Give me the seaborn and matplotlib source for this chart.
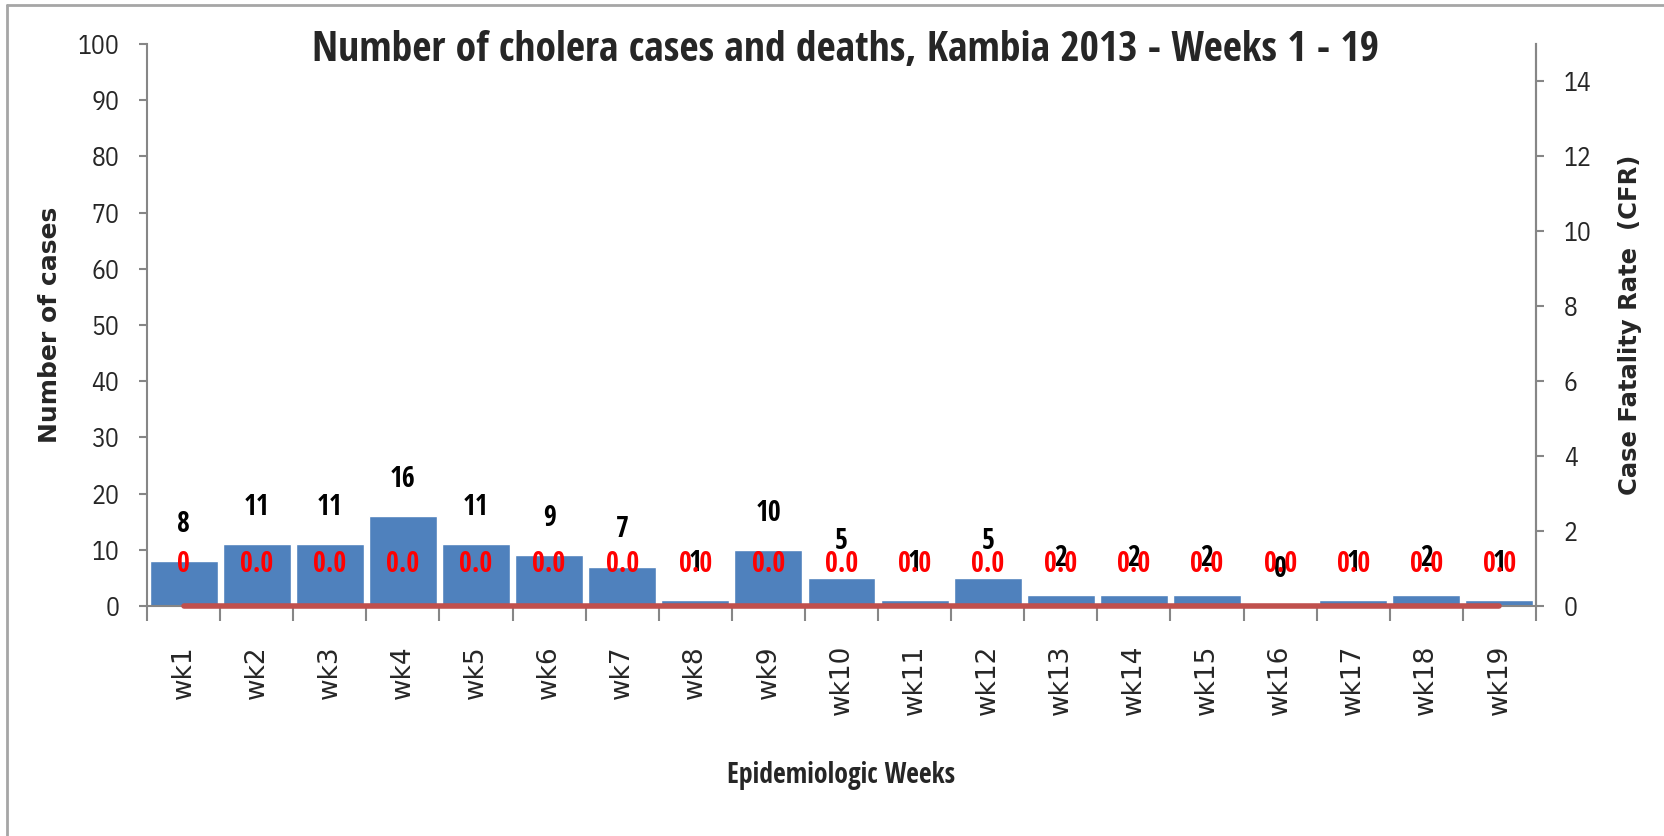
import numpy as np
import pandas as pd
import matplotlib
matplotlib.use("Agg")
import matplotlib.pyplot as plt
from matplotlib.lines import Line2D
import seaborn as sns

# data
weeks = ["wk1", "wk2", "wk3", "wk4", "wk5", "wk6", "wk7", "wk8", "wk9", "wk10",
         "wk11", "wk12", "wk13", "wk14", "wk15", "wk16", "wk17", "wk18", "wk19"]
cases = [8, 11, 11, 16, 11, 9, 7, 1, 10, 5, 1, 5, 2, 2, 2, 0, 1, 2, 1]
cfr = [0.0] * 19
cfr_labels = ["0", "0.0", "0.0", "0.0", "0.0", "0.0", "0.0", "0.0", "0.0", "0.0",
              "0.0", "0.0", "0.0", "0.0", "0.0", "0.0", "0.0", "0.0", "0.0"]

df = pd.DataFrame({"week": weeks, "cases": cases, "cfr": cfr})

sns.set_style("white")
plt.rcParams['font.family'] = ['Open Sans Condensed', 'DejaVu Sans']
BOLD = ['Open Sans Condensed', 'DejaVu Sans']
REG = ['IBM Plex Sans Condensed', 'DejaVu Sans']

BLUE = "#4F81BD"
RED_LINE = "#C0504D"
GRID = "#868686"

W, H = 1665, 836
fig = plt.figure(figsize=(W / 100, H / 100), dpi=100)
ax = fig.add_axes([147 / W, 1 - 606 / H, (1536 - 147) / W, (606 - 44) / H])

sns.barplot(data=df, x="week", y="cases", color=BLUE, saturation=1, width=0.93,
            ax=ax, zorder=2)
ax.bar_label(ax.containers[0], padding=16, fontsize=20, fontweight="bold",
             color="black", family=BOLD)

ax.set_xlim(-0.5, len(weeks) - 0.5)
ax.set_ylim(0, 100)
ax.set_yticks(range(0, 101, 10))
ax.tick_params(axis="y", labelsize=18.5, length=6, width=1.5, color=GRID,
               direction="out", left=True, pad=14)
for t in ax.get_yticklabels():
    t.set_family(REG)
ax.tick_params(axis="x", labelsize=19, length=0, pad=28)
ax.set_xticks(range(len(weeks)))
ax.set_xticklabels(weeks, rotation=90, family="DejaVu Sans")
ax.set_xticks(np.arange(-0.5, len(weeks), 1), minor=True)
ax.tick_params(axis="x", which="minor", length=11, width=1.5, color=GRID,
               direction="out", bottom=True)

ax.set_xlabel("Epidemiologic Weeks", fontsize=20, fontweight="bold", family=BOLD)
ax.xaxis.set_label_coords(0.5, (606 - 775) / 562)
ax.xaxis.label.set_va("center")
ax.set_ylabel("Number of cases", fontsize=18, fontweight="bold", family="DejaVu Sans")
ax.yaxis.label.set_va("center")
ax.yaxis.set_label_coords((50 - 147) / 1389, 0.5)

for s in ["left", "bottom", "right"]:
    ax.spines[s].set_color(GRID)
    ax.spines[s].set_linewidth(1.5)
ax.spines["top"].set_visible(False)

# secondary axis for case fatality rate
ax2 = ax.twinx()
sns.lineplot(x=np.arange(len(weeks)), y=cfr, ax=ax2, color=RED_LINE)
cfr_line = ax2.lines[0]
cfr_line.set_linewidth(4)
cfr_line.set_solid_capstyle("round")
cfr_line.set_clip_on(False)
cfr_line.set_zorder(3)
for i, (v, lab) in enumerate(zip(cfr, cfr_labels)):
    ax2.annotate(lab, (i, v), xytext=(0, 30), textcoords="offset points",
                 ha="center", va="center", fontsize=20, fontweight="bold",
                 color="#FF0000", family=BOLD)
ax2.set_ylim(0, 15)
ax2.set_yticks(range(0, 15, 2))
ax2.tick_params(axis="y", labelsize=18.5, length=6, width=1.5, color=GRID,
                direction="out", right=True, pad=14)
for t in ax2.get_yticklabels():
    t.set_family(REG)
ax2.set_ylabel("Case Fatality Rate  (CFR)", fontsize=17.5, fontweight="bold",
               family="DejaVu Sans", rotation=90)
ax2.yaxis.label.set_va("center")
ax2.yaxis.set_label_coords((1630 - 147) / 1389, 0.5)
for s in ["left", "bottom", "top"]:
    ax2.spines[s].set_visible(False)
ax2.spines["right"].set_color(GRID)
ax2.spines["right"].set_linewidth(1.5)

fig.text(846 / W, 1 - 51 / H, "Number of cholera cases and deaths, Kambia 2013 - Weeks 1 - 19",
         ha="center", va="center", fontsize=30, fontweight="bold", family=BOLD)

# chart area frame (top and left edges visible)
fig.add_artist(Line2D([7 / W, 7 / W], [0, 1 - 5 / H], transform=fig.transFigure,
                      color="#A6A6A6", lw=2))
fig.add_artist(Line2D([7 / W, 1], [1 - 5 / H, 1 - 5 / H], transform=fig.transFigure,
                      color="#A6A6A6", lw=2))

fig.savefig("out.png", dpi=100)
